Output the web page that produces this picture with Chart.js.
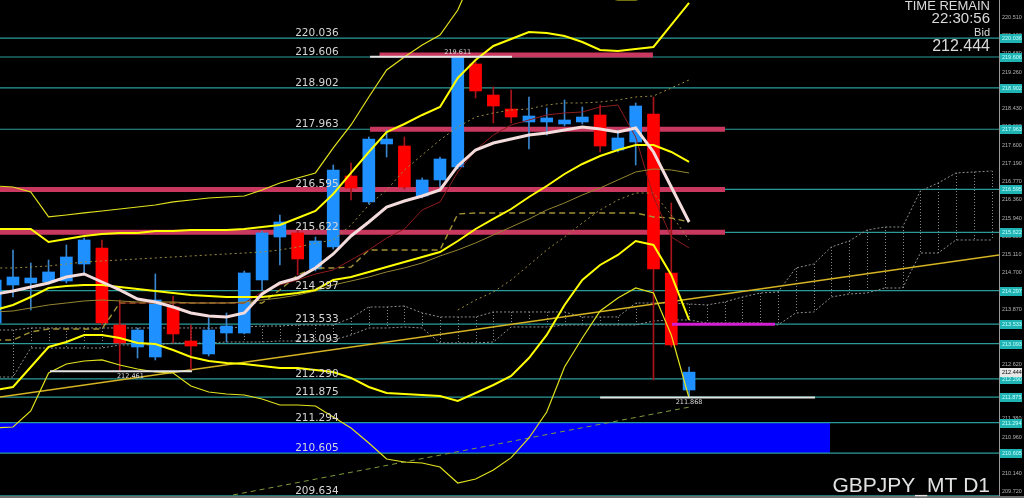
<!DOCTYPE html>
<html>
<head>
<meta charset="utf-8">
<title>GBPJPY_MT D1</title>
<script src="https://cdn.jsdelivr.net/npm/chart.js@4.4.1/dist/chart.umd.min.js"></script>
<style>
  html, body { margin: 0; padding: 0; background: #000; overflow: hidden; }
  #wrap { width: 1024px; height: 498px; position: relative; }
</style>
</head>
<body>
<div id="wrap"><canvas id="chart"></canvas></div>
<script>
/*======= Price data (daily bars, bar -1 is the cut one at the left edge) =======*/
var firstBar = -1;
var opens  = [213.561, 214.424, 214.470, 214.492, 214.515, 214.901, 215.265, 213.515, 213.015, 212.788,
              213.924, 213.151, 212.856, 213.333, 213.333, 214.538, 215.515, 215.606, 214.788, 215.288,
              216.901, 216.311, 217.629, 217.583, 216.447, 216.811, 217.106, 219.447, 218.742, 218.424,
              218.129, 218.129, 218.083, 218.129, 218.288, 217.492, 217.674, 218.311, 214.697, 212.038];
var highs  = [214.651, 215.220, 214.924, 214.992, 215.333, 215.492, 215.447, 214.083, 213.447, 214.674,
              214.174, 213.515, 213.674, 213.788, 214.742, 215.651, 216.015, 215.674, 215.515, 217.151,
              217.197, 217.788, 217.947, 217.788, 216.856, 217.333, 219.611, 219.492, 218.924, 218.856,
              218.697, 218.447, 218.629, 218.470, 218.515, 217.947, 218.561, 218.697, 216.288, 212.561];
var lows   = [213.401, 214.151, 213.856, 214.447, 214.470, 214.697, 213.515, 212.461, 212.765, 212.720,
              213.106, 212.492, 212.811, 213.129, 213.311, 214.311, 214.879, 214.651, 214.742, 215.242,
              216.356, 216.265, 217.333, 216.606, 216.401, 216.651, 217.061, 218.674, 218.106, 218.106,
              217.515, 217.833, 218.038, 218.083, 217.447, 217.447, 217.151, 212.265, 213.015, 211.868];
var closes = [214.538, 214.606, 214.583, 214.720, 215.061, 215.447, 213.561, 213.106, 213.401, 214.083,
              213.311, 213.038, 213.401, 213.492, 214.697, 215.606, 215.856, 215.015, 215.424, 217.038,
              216.629, 217.742, 217.742, 216.651, 216.811, 217.288, 219.606, 218.833, 218.492, 218.242,
              218.265, 218.220, 218.174, 218.242, 217.583, 217.765, 218.492, 214.788, 213.061, 212.444];

/*======= Indicators, one value per bar from bar -1 =======*/
var maWhite = [214.220, 214.288, 214.379, 214.470, 214.606, 214.674, 214.492, 214.311, 214.106, 214.038,
               213.924, 213.788, 213.720, 213.697, 213.788, 214.220, 214.470, 214.583, 214.811, 215.129,
               215.538, 215.856, 216.197, 216.333, 216.447, 216.583, 217.129, 217.492, 217.651, 217.742,
               217.833, 217.879, 217.947, 218.015, 217.970, 217.901, 217.992, 217.447, 216.651, 215.856];
var bandUp2 = [215.697, 215.697, 215.697, 215.401, 215.470, 215.538, 215.583, 215.606, 215.606, 215.651,
               215.651, 215.674, 215.674, 215.674, 215.697, 215.742, 215.788, 215.947, 216.106, 216.492,
               216.970, 217.447, 217.901, 218.083, 218.288, 218.470, 219.129, 219.538, 219.856, 220.015,
               220.174, 220.151, 220.083, 219.947, 219.765, 219.742, 219.788, 219.833, 220.333, 220.833];
var bandUp1 = [213.856, 213.970, 214.151, 214.356, 214.401, 214.424, 214.424, 214.379, 214.333, 214.288,
               214.242, 214.197, 214.174, 214.151, 214.151, 214.151, 214.197, 214.242, 214.311, 214.538,
               214.606, 214.720, 214.833, 214.947, 215.061, 215.174, 215.424, 215.697, 215.924, 216.151,
               216.424, 216.674, 216.947, 217.174, 217.356, 217.492, 217.606, 217.606, 217.447, 217.220];
var bandLow1 = [212.038, 212.106, 212.561, 213.015, 213.129, 213.288, 213.288, 213.220, 213.106, 213.083,
                212.947, 212.788, 212.697, 212.651, 212.629, 212.583, 212.538, 212.538, 212.492, 212.447,
                212.311, 212.106, 211.970, 211.947, 211.924, 211.901, 211.788, 211.970, 212.151, 212.356,
                212.765, 213.288, 213.970, 214.538, 214.879, 215.106, 215.424, 215.333, 214.651, 213.629];
var bandUp3 = [216.674, 216.651, 216.538, 215.970, 216.015, 216.061, 216.106, 216.151, 216.197, 216.242,
               216.311, 216.356, 216.401, 216.424, 216.447, 216.583, 216.742, 216.856, 216.970, 217.538,
               218.061, 218.697, 219.311, 219.606, 219.879, 220.106, 220.674, 221.583, 222.038, 222.265,
               222.151, 221.924, 221.470, 221.174, 220.970, 220.901, 220.901, 220.992, 221.811, 222.720];
var bandLow3 = [211.174, 211.197, 211.561, 212.424, 212.629, 212.697, 212.720, 212.606, 212.515, 212.447,
                212.424, 212.129, 211.992, 211.947, 211.924, 211.833, 211.697, 211.697, 211.674, 211.424,
                211.174, 210.833, 210.470, 210.401, 210.379, 210.288, 209.924, 210.015, 210.220, 210.500,
                210.947, 211.538, 212.561, 213.220, 213.833, 214.129, 214.356, 214.242, 213.288, 211.856];
var midLine = [213.811, 213.833, 213.901, 213.970, 214.015, 214.061, 214.083, 214.061, 214.038, 214.038,
               214.038, 214.015, 214.015, 214.015, 214.038, 214.083, 214.129, 214.197, 214.288, 214.424,
               214.515, 214.606, 214.720, 214.811, 214.924, 215.083, 215.220, 215.379, 215.561, 215.742,
               215.924, 216.129, 216.288, 216.470, 216.629, 216.811, 216.992, 217.061, 217.038, 216.970];
var kijun   = [213.174, 213.174, 213.356, 213.424, 213.424, 213.424, 213.424, 214.015, 214.015, 214.015,
               214.015, 214.015, 214.015, 214.015, 214.015, 214.015, 214.311, 214.651, 214.811, 214.811,
               214.833, 215.220, 215.220, 215.220, 215.220, 215.220, 216.038, 216.061, 216.061, 216.061,
               216.061, 216.061, 216.061, 216.061, 216.061, 216.061, 216.061, 215.970, 215.947, 215.856];
var dotLine = [214.811, 214.811, 214.833, 214.856, 214.901, 214.947, 214.970, 214.992, 215.015, 215.038,
               215.061, 215.083, 215.106, 215.129, 215.151, 215.174, 215.220, 215.288, 215.379, 215.447,
               215.788, 216.242, 216.583, 217.038, 217.379, 217.720, 218.015, 218.242, 218.333, 218.401,
               218.424, 218.515, 218.561, 218.561, 218.583, 218.629, 218.697, 218.720, 218.901, 219.083];
// dark red line starts at bar 6, second dotted line at bar 25
var redStart = 6;
var redLine = [214.015, 214.015, 214.015, 214.015, 214.015, 214.015, 214.015, 214.015, 214.265, 214.424,
               214.538, 214.674, 214.765, 214.992, 215.220, 215.492, 215.697, 216.129, 216.311, 216.992,
               217.492, 217.833, 218.061, 218.174, 218.288, 218.333, 218.356, 218.470, 218.515, 217.788,
               216.424, 215.515, 215.265];
var dot2Start = 25;
var dotLine2 = [213.856, 214.083, 214.265, 214.538, 214.879, 215.220, 215.515, 215.833, 216.129, 216.356,
                216.515, 216.515, 216.015, 215.447];

/*======= Cloud, bar -1 to bar 55 =======*/
var cloudStart = -1;
var cloudA = [213.401, 213.401, 213.447, 213.447, 213.447, 213.447, 213.447, 213.447, 213.447, 213.447,
              213.447, 213.447, 213.447, 213.447, 213.470, 213.492, 213.492, 213.515, 213.515, 213.515,
              213.674, 213.924, 213.924, 213.947, 213.788, 213.697, 213.697, 213.697, 213.811, 213.811,
              213.811, 213.811, 213.811, 213.697, 213.697, 213.697, 214.015, 214.015, 214.015, 213.992,
              213.970, 214.038, 214.151, 214.242, 214.265, 214.811, 214.901, 215.288, 215.424, 215.674,
              215.742, 215.742, 216.561, 216.742, 216.970, 216.992, 217.015];
var cloudB = [212.333, 212.333, 212.992, 212.992, 212.992, 212.992, 212.992, 213.061, 213.061, 213.061,
              213.106, 213.106, 213.106, 213.129, 213.129, 213.129, 213.151, 213.151, 213.174, 213.174,
              213.288, 213.447, 213.447, 213.470, 213.447, 213.106, 213.106, 213.106, 213.129, 213.470,
              213.470, 213.470, 213.515, 213.515, 213.515, 213.515, 213.515, 213.606, 213.629, 213.629,
              213.561, 213.561, 213.561, 213.561, 213.515, 213.788, 213.811, 214.151, 214.220, 214.242,
              214.356, 214.356, 215.151, 215.151, 215.447, 215.447, 215.447];

/*======= Objects drawn on the chart =======*/
var levels = [220.036, 219.606, 218.902, 217.963, 216.595, 215.622, 214.297, 213.533, 213.093,
              212.290, 211.875, 211.294, 210.605, 209.634];
var levelLabelBar = 18.3;
var zoneLevels = [219.650, 217.963, 216.595, 215.622];
var zoneFrom   = [20.6, 20.07, -1, -1];
var zoneTo     = [35.97, 40.02, 40.02, 40.02];
var markLevels = [219.611, 212.461, 211.868];
var markFrom   = [20.07, 2.08, 33.0];
var markTo     = [28.05, 10.06, 45.08];
var markAt     = [25, 6.6, 38];
var pendingLevel = 213.533, pendingFrom = 37.04, pendingTo = 42.83;
var boxTop = 211.294, boxBottom = 210.605, boxFrom = -1, boxTo = 45.92;
var trendX = [-0.73, 55.42], trendY = [211.879, 215.106];
var channelX = [12.37, 38.05], channelY = [209.651, 211.652];

var axisTicks = [220.510, 220.100, 219.680, 219.260, 218.850, 218.430, 218.020, 217.600, 217.190,
                 216.770, 216.360, 215.940, 215.530, 215.110, 214.700, 214.290, 213.870, 213.450,
                 213.040, 212.620, 212.210, 211.790, 211.380, 210.960, 210.550, 210.140, 209.720];
var bidPrice = 212.444;
var timeRemain = '22:30:56';
var symbolText = 'GBPJPY_MT D1';

/*======= helpers =======*/
function pts(values, start) {
  return values.map(function (v, k) { return { x: start + k, y: v }; });
}
function seg(x0, x1, v) { return [{ x: x0, y: v }, { x: x1, y: v }]; }
function lineSet(data, color, width, dash, order) {
  return { type: 'line', data: data, borderColor: color, borderWidth: width, borderDash: dash || [],
           pointRadius: 0, fill: false, tension: 0, order: order };
}

var datasets = [];

// blue zone
datasets.push({ type: 'line', data: seg(boxFrom, boxTo, boxTop), borderWidth: 0, pointRadius: 0,
  fill: { value: boxBottom }, backgroundColor: '#0000ff', order: 120 });

levels.forEach(function (v) { datasets.push(lineSet(seg(-2, 60, v), '#2a9b9b', 1.2, null, 110)); });
zoneLevels.forEach(function (v, k) {
  datasets.push(lineSet(seg(zoneFrom[k], zoneTo[k], v), '#c9385f', 5, null, 105));
});

datasets.push(lineSet(pts(cloudA, cloudStart), '#8e8e8e', 1, [2, 2], 100));
datasets.push(lineSet(pts(cloudB, cloudStart), '#8e8e8e', 1, [2, 2], 100));

datasets.push(lineSet([{ x: trendX[0], y: trendY[0] }, { x: trendX[1], y: trendY[1] }], '#d6b422', 1.5, null, 90));
datasets.push(lineSet([{ x: channelX[0], y: channelY[0] }, { x: channelX[1], y: channelY[1] }], '#7f9a3c', 1, [5, 4], 90));

// candles: wicks behind bodies
var wickData = [], bodyData = [], wickColors = [], bodyColors = [];
opens.forEach(function (o, k) {
  var up = closes[k] >= o;
  wickData.push({ x: firstBar + k, y: [lows[k], highs[k]] });
  bodyData.push({ x: firstBar + k, y: [o, closes[k]] });
  wickColors.push(up ? '#3a86cc' : '#a8141a');
  bodyColors.push(up ? '#1e90ff' : '#ff0000');
});
datasets.push({ type: 'bar', data: wickData, backgroundColor: wickColors, barThickness: 1,
  grouped: false, borderWidth: 0, order: 60 });
datasets.push({ type: 'bar', data: bodyData, backgroundColor: bodyColors, barThickness: 12,
  grouped: false, borderWidth: 0, minBarLength: 1, order: 50 });

datasets.push(lineSet(pts(midLine, firstBar), '#958530', 1, null, 30));
datasets.push(lineSet(pts(redLine, redStart), '#8e1c1c', 1, null, 30));
datasets.push(lineSet(pts(kijun, firstBar), '#a29234', 1.4, [6, 4], 30));
datasets.push(lineSet(pts(dotLine, firstBar), '#9c8c3e', 1, [2, 3], 30));
datasets.push(lineSet(pts(dotLine2, dot2Start), '#9c8c3e', 1, [2, 3], 30));
datasets.push(lineSet(pts(bandUp3, firstBar), '#e2e21c', 1.2, null, 25));
datasets.push(lineSet(pts(bandLow3, firstBar), '#e2e21c', 1.2, null, 25));
datasets.push(lineSet(pts(bandUp2, firstBar), '#ffff00', 2, null, 20));
datasets.push(lineSet(pts(bandUp1, firstBar), '#ffff00', 2, null, 20));
datasets.push(lineSet(pts(bandLow1, firstBar), '#ffff00', 2, null, 20));
datasets.push(lineSet(pts(maWhite, firstBar), '#f4dcdc', 3, null, 10));

datasets.push(lineSet(seg(pendingFrom, pendingTo, pendingLevel), '#d21fd2', 3, null, 5));
markLevels.forEach(function (v, k) {
  datasets.push(lineSet(seg(markFrom[k], markTo[k], v), '#e4e4e4', 2, null, 5));
});

/*======= overlay texts =======*/
var overlay = {
  id: 'overlay',
  beforeDatasetsDraw: function (chart) {
    var ctx = chart.ctx, xs = chart.scales.x, ys = chart.scales.y, a = chart.chartArea;
    ctx.save();
    ctx.beginPath(); ctx.rect(a.left, a.top, a.right - a.left, a.bottom - a.top); ctx.clip();
    ctx.strokeStyle = '#8a8a8a'; ctx.lineWidth = 1; ctx.setLineDash([1, 2]);
    cloudA.forEach(function (v, k) {
      var x = Math.round(xs.getPixelForValue(cloudStart + k)) + 0.5;
      ctx.beginPath();
      ctx.moveTo(x, ys.getPixelForValue(v));
      ctx.lineTo(x, ys.getPixelForValue(cloudB[k]));
      ctx.stroke();
    });
    ctx.restore();
  },
  afterDatasetsDraw: function (chart) {
    var ctx = chart.ctx, xs = chart.scales.x, ys = chart.scales.y;
    ctx.save();
    ctx.font = '10.5px "DejaVu Sans"';
    ctx.fillStyle = '#d6d6d6';
    ctx.textAlign = 'right'; ctx.textBaseline = 'alphabetic';
    var lx = xs.getPixelForValue(levelLabelBar);
    levels.forEach(function (v) { ctx.fillText(v.toFixed(3), lx, ys.getPixelForValue(v) - 2); });

    ctx.font = '6.5px "DejaVu Sans"';
    ctx.fillStyle = '#dcdcdc';
    ctx.textAlign = 'center';
    markLevels.forEach(function (v, k) {
      var y = ys.getPixelForValue(v);
      ctx.fillText(v.toFixed(3), xs.getPixelForValue(markAt[k]), k === 0 ? y - 3 : y + 7);
    });
    ctx.restore();
  },
  afterDraw: function (chart) {
    var ctx = chart.ctx, ys = chart.scales.y, a = chart.chartArea, w = chart.width;
    ctx.save();
    // price boxes on the right scale
    ctx.font = '5.5px "Liberation Sans"';
    ctx.textAlign = 'left'; ctx.textBaseline = 'middle';
    levels.slice(0, levels.length - 1).forEach(function (v) {
      var y = Math.round(ys.getPixelForValue(v));
      ctx.fillStyle = '#1fb3b3';
      ctx.fillRect(a.right + 1, y - 4, w - a.right - 3, 9);
      ctx.fillStyle = '#c6ffff';
      ctx.fillText(v.toFixed(3), a.right + 3, y + 0.5);
    });
    var by = Math.round(ys.getPixelForValue(bidPrice));
    ctx.fillStyle = '#e6e6e6';
    ctx.fillRect(a.right + 1, by - 4, w - a.right - 3, 9);
    ctx.fillStyle = '#000';
    ctx.fillText(bidPrice.toFixed(3), a.right + 3, by + 0.5);

    // bottom frame
    ctx.fillStyle = '#6e6e6e';
    ctx.fillRect(0, chart.height - 2, w, 2);

    // info texts
    ctx.fillStyle = '#dadada';
    ctx.textAlign = 'right'; ctx.textBaseline = 'alphabetic';
    ctx.font = '13px "Liberation Sans Narrow", "Liberation Sans"';
    ctx.fillText('TIME REMAIN', 990, 10);
    ctx.font = '15px "Liberation Sans"';
    ctx.fillText(timeRemain, 990, 23);
    ctx.font = '11px "Liberation Sans"';
    ctx.fillText('Bid', 990, 36);
    ctx.font = '16px "Liberation Sans"';
    ctx.fillText(bidPrice.toFixed(3), 990, 51);
    ctx.font = '21px "Liberation Sans"';
    ctx.fillStyle = '#e2e2e2';
    ctx.fillText(symbolText, 990, 492);
    ctx.restore();
  }
};

new Chart(document.getElementById('chart'), {
  type: 'line',
  data: { datasets: datasets },
  options: {
    responsive: true,
    maintainAspectRatio: false,
    animation: false,
    events: [],
    layout: { padding: 0 },
    plugins: { legend: { display: false }, tooltip: { enabled: false } },
    scales: {
      x: { type: 'linear', min: -0.73, max: 55.42, offset: false, display: false },
      y: {
        type: 'linear', position: 'right', min: 209.583, max: 220.901,
        grid: { display: false, drawTicks: false, tickLength: 0 },
        border: { display: true, color: '#9a9a9a', width: 1 },
        afterBuildTicks: function (s) { s.ticks = axisTicks.map(function (v) { return { value: v }; }); },
        afterFit: function (s) { s.width = 25; s.paddingTop = 0; s.paddingBottom = 0; },
        ticks: {
          autoSkip: false, padding: 3, color: '#b4b4b4',
          font: { size: 5.5, family: 'Liberation Sans' },
          callback: function (v) { return Number(v).toFixed(3); }
        }
      }
    }
  },
  plugins: [overlay]
});
</script>
</body>
</html>
